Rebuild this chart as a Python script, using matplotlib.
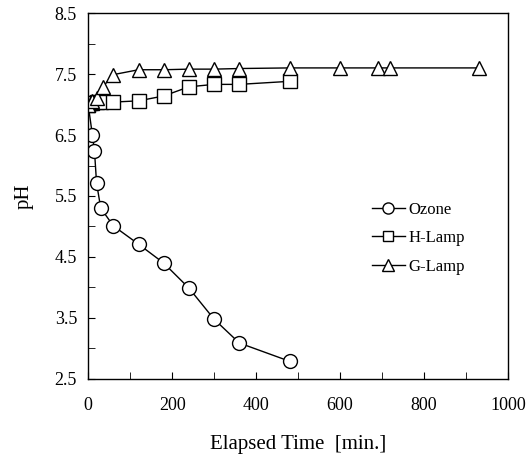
import numpy as np
import matplotlib
matplotlib.use("Agg")
import matplotlib.pyplot as plt
from matplotlib.ticker import MultipleLocator

plt.rcParams['font.family'] = ['Liberation Serif', 'DejaVu Serif']

# data
ozone_t = [0, 10, 15, 20, 30, 60, 120, 180, 240, 300, 360, 480]
ozone_ph = [7.0, 6.5, 6.24, 5.71, 5.3, 5.01, 4.71, 4.4, 3.99, 3.48, 3.09, 2.79]

hlamp_t = [0, 5, 10, 20, 30, 60, 120, 180, 240, 300, 360, 480]
hlamp_ph = [7.0, 7.02, 7.03, 7.04, 7.04, 7.04, 7.06, 7.14, 7.29, 7.33, 7.33, 7.38]

glamp_t = [0, 10, 20, 35, 60, 120, 180, 240, 300, 360, 480, 600, 690, 720, 930]
glamp_ph = [7.0, 7.05, 7.1, 7.29, 7.49, 7.57, 7.57, 7.58, 7.58, 7.59, 7.6, 7.6, 7.6, 7.6, 7.6]

fig = plt.figure(figsize=(5.28, 4.65), dpi=100)
ax = fig.add_axes([0.167, 0.185, 0.795, 0.787])

ax.plot(ozone_t, ozone_ph, '-o', color='black', mfc='white', mec='black',
        ms=10, lw=1, mew=1, label='Ozone')
ax.plot(hlamp_t, hlamp_ph, '-s', color='black', mfc='white', mec='black',
        ms=9.5, lw=1, mew=1, label='H-Lamp')
ax.plot(glamp_t, glamp_ph, '-^', color='black', mfc='white', mec='black',
        ms=10, lw=1, mew=1, label='G-Lamp')

ax.set_xlim(0, 1000)
ax.set_ylim(2.5, 8.5)
ax.xaxis.set_major_locator(MultipleLocator(200))
ax.xaxis.set_minor_locator(MultipleLocator(100))
ax.yaxis.set_minor_locator(MultipleLocator(0.5))
ax.set_yticks([2.5, 3.5, 4.5, 5.5, 6.5, 7.5, 8.5])
ax.tick_params(which='both', direction='in', labelsize=13, length=5)
ax.tick_params(axis='x', pad=13)
ax.tick_params(axis='y', pad=8)
for s in ax.spines.values():
    s.set_linewidth(1)

ax.set_xlabel('Elapsed Time  [min.]', fontsize=15, labelpad=15)
ax.set_ylabel('pH', fontsize=15, labelpad=15)

ax.legend(loc='center left', bbox_to_anchor=(0.64, 0.385), frameon=False,
          fontsize=12, handlelength=2.0, handletextpad=0.2, labelspacing=0.75,
          markerscale=0.8)

fig.savefig('out.png', dpi=100)
